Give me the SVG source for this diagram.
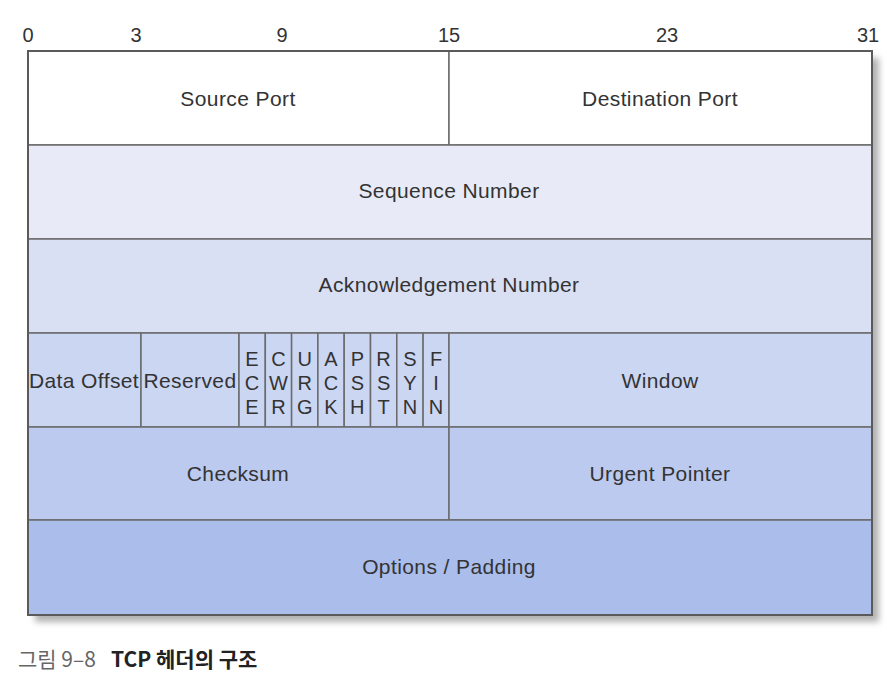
<svg xmlns="http://www.w3.org/2000/svg" width="887" height="677" viewBox="0 0 887 677">
<defs>
<filter id="sh" x="-5%" y="-5%" width="115%" height="115%">
<feDropShadow dx="7" dy="7" stdDeviation="3" flood-color="#000" flood-opacity="0.3"/>
</filter>
</defs>
<style>
.c{stroke:#6b6b6b;stroke-width:1.5}
.t{font-family:"Liberation Sans",Arial,sans-serif;font-size:21px;fill:#333;letter-spacing:0.4px;text-anchor:middle}
.f{font-family:"Liberation Sans",Arial,sans-serif;font-size:20px;fill:#333;text-anchor:middle}
.n{font-family:"Liberation Sans",Arial,sans-serif;font-size:20px;fill:#333;text-anchor:middle}
.cap{font-family:"Noto Sans CJK KR","Liberation Sans",sans-serif;font-size:21px}
</style>
<rect width="887" height="677" fill="#fff"/>
<g id="scale">
<text class="n" x="28" y="42">0</text>
<text class="n" x="136" y="42">3</text>
<text class="n" x="282" y="42">9</text>
<text class="n" x="449" y="42">15</text>
<text class="n" x="667" y="42">23</text>
<text class="n" x="868" y="42">31</text>
</g>
<rect x="28" y="51" width="844" height="564" fill="#fff" filter="url(#sh)"/>
<g id="source-port"><rect x="28" y="51" width="421" height="94" fill="#ffffff" class="c"/><text class="t" x="238" y="106">Source Port</text></g>
<g id="destination-port"><rect x="449" y="51" width="423" height="94" fill="#ffffff" class="c"/><text class="t" x="660" y="106">Destination Port</text></g>
<g id="sequence-number"><rect x="28" y="145" width="844" height="94" fill="#e8ebf7" class="c"/><text class="t" x="449" y="198">Sequence Number</text></g>
<g id="ack-number"><rect x="28" y="239" width="844" height="94" fill="#dae0f4" class="c"/><text class="t" x="449" y="292">Acknowledgement Number</text></g>
<g id="data-offset"><rect x="28" y="333" width="113" height="94" fill="#cbd6f3" class="c"/><text class="t" x="84" y="388">Data Offset</text></g>
<g id="reserved"><rect x="141" y="333" width="98" height="94" fill="#cbd6f3" class="c"/><text class="t" x="190" y="388" letter-spacing="0">Reserved</text></g>
<g id="ece"><rect x="239" y="333" width="26.3" height="94" fill="#cbd6f3" class="c"/><text class="f" x="252" y="366">E</text><text class="f" x="252" y="390">C</text><text class="f" x="252" y="414">E</text></g>
<g id="cwr"><rect x="265.3" y="333" width="26.3" height="94" fill="#cbd6f3" class="c"/><text class="f" x="278.4" y="366">C</text><text class="f" x="278.4" y="390">W</text><text class="f" x="278.4" y="414">R</text></g>
<g id="urg"><rect x="291.6" y="333" width="26.3" height="94" fill="#cbd6f3" class="c"/><text class="f" x="304.7" y="366">U</text><text class="f" x="304.7" y="390">R</text><text class="f" x="304.7" y="414">G</text></g>
<g id="ack"><rect x="317.9" y="333" width="26.3" height="94" fill="#cbd6f3" class="c"/><text class="f" x="331" y="366">A</text><text class="f" x="331" y="390">C</text><text class="f" x="331" y="414">K</text></g>
<g id="psh"><rect x="344.2" y="333" width="26.3" height="94" fill="#cbd6f3" class="c"/><text class="f" x="357.3" y="366">P</text><text class="f" x="357.3" y="390">S</text><text class="f" x="357.3" y="414">H</text></g>
<g id="rst"><rect x="370.5" y="333" width="26.3" height="94" fill="#cbd6f3" class="c"/><text class="f" x="383.6" y="366">R</text><text class="f" x="383.6" y="390">S</text><text class="f" x="383.6" y="414">T</text></g>
<g id="syn"><rect x="396.8" y="333" width="26.3" height="94" fill="#cbd6f3" class="c"/><text class="f" x="409.9" y="366">S</text><text class="f" x="409.9" y="390">Y</text><text class="f" x="409.9" y="414">N</text></g>
<g id="fin"><rect x="423.1" y="333" width="25.9" height="94" fill="#cbd6f3" class="c"/><text class="f" x="436" y="366">F</text><text class="f" x="436" y="390">I</text><text class="f" x="436" y="414">N</text></g>
<g id="window"><rect x="449" y="333" width="423" height="94" fill="#cbd6f3" class="c"/><text class="t" x="660" y="388">Window</text></g>
<g id="checksum"><rect x="28" y="427" width="421" height="93" fill="#bccaef" class="c"/><text class="t" x="238" y="481">Checksum</text></g>
<g id="urgent-pointer"><rect x="449" y="427" width="423" height="93" fill="#bccaef" class="c"/><text class="t" x="660" y="481">Urgent Pointer</text></g>
<g id="options"><rect x="28" y="520" width="844" height="95" fill="#abbdeb" class="c"/><text class="t" x="449" y="574">Options / Padding</text></g>
<g id="connectors"></g>
<rect x="28" y="51" width="844" height="564" fill="none" stroke="#5a5a5a" stroke-width="2"/>
<g id="caption">
<text class="cap" x="18" y="667" fill="#666">그림 9–8</text>
<text class="cap" x="111" y="667" font-weight="bold" fill="#222">TCP 헤더의 구조</text>
</g>
</svg>
